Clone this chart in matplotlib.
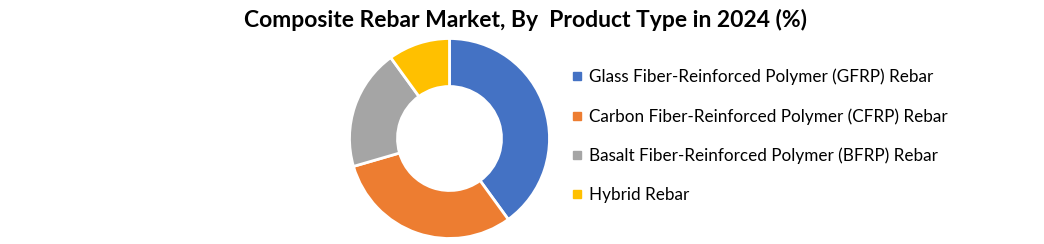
import matplotlib
matplotlib.use('Agg')
import matplotlib.pyplot as plt
from matplotlib.lines import Line2D

# product type shares in 2024 (%)
categories = ['Glass Fiber-Reinforced Polymer (GFRP) Rebar',
              'Carbon Fiber-Reinforced Polymer (CFRP) Rebar',
              'Basalt Fiber-Reinforced Polymer (BFRP) Rebar',
              'Hybrid Rebar']
shares = [40.0, 30.5, 19.5, 10.0]
colors = ['#4472C4', '#ED7D31', '#A5A5A5', '#FFC000']

W, H = 1044, 244
fig = plt.figure(figsize=(W / 100, H / 100), dpi=100)

# donut placed in pixel terms
cx, cy, r = 449.5, 138.5, 100
ax = fig.add_axes([(cx - r) / W, (H - cy - r) / H, 2 * r / W, 2 * r / H])
ax.pie(shares, colors=colors, startangle=90, counterclock=False,
       wedgeprops=dict(width=0.48, edgecolor='white', linewidth=2))
ax.set_xlim(-1, 1)
ax.set_ylim(-1, 1)
ax.set_aspect('equal')
ax.axis('off')

fig.text(525 / W, 1 - 20 / H, 'Composite Rebar Market, By  Product Type in 2024 (%)',
         ha='center', va='center', fontsize=16.5, fontweight='bold', family='Lato')

handles = [Line2D([], [], marker='s', linestyle='none', markersize=5.5,
                  markerfacecolor=c, markeredgecolor=c) for c in colors]
leg = fig.legend(handles, categories, loc='center left',
                 bbox_to_anchor=(563 / W, 1 - 136 / H), frameon=False,
                 prop=dict(family='Lato', size=12.3), labelspacing=1.35,
                 handlelength=0.6, handletextpad=0.45, borderpad=0)

fig.savefig('out.png', dpi=100)
